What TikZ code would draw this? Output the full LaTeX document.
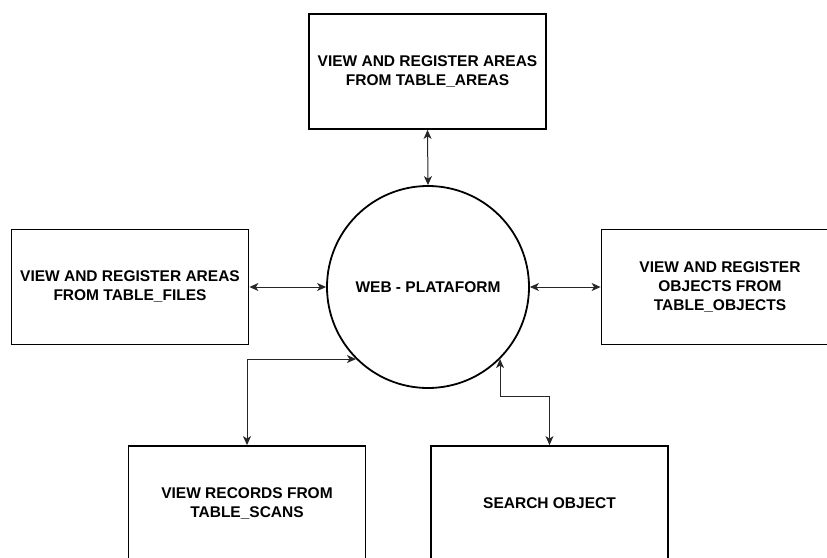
\documentclass[tikz,border=0pt]{standalone}
\usepackage{fontspec}
\setmainfont{Liberation Sans}
\usetikzlibrary{arrows.meta}
\begin{document}
\begin{tikzpicture}[x=1pt,y=-1pt,
  box/.style={draw=black,line width=1.8pt,minimum width=237pt,minimum height=115pt,
    align=center,inner sep=2pt,font=\fontsize{15.5}{19}\selectfont\bfseries},
  hub/.style={draw=black,line width=1.8pt,circle,minimum size=202pt,inner sep=0pt,
    font=\fontsize{15.5}{19}\selectfont\bfseries},
  link/.style={draw=black!85,line width=1pt,
    {Stealth[length=9pt,width=8pt,inset=2.5pt]}-{Stealth[length=9pt,width=8pt,inset=2.5pt]}}]
  \useasboundingbox (0,0) rectangle (827,557);

  \node[hub] (web) at (428,287) {WEB - PLATAFORM};

  \node[box] (areas)   at (427.5,71.5) {VIEW AND REGISTER AREAS\\FROM TABLE\_AREAS};
  \node[box] (files)   at (130,287)    {VIEW AND REGISTER AREAS\\FROM TABLE\_FILES};
  \node[box] (objects) at (720,287)    {VIEW AND REGISTER\\OBJECTS FROM\\TABLE\_OBJECTS};
  \node[box] (scans)   at (247,503.5)  {VIEW RECORDS FROM\\TABLE\_SCANS};
  \node[box] (search)  at (549.5,503.5) {SEARCH OBJECT};

  \coordinate (bend) at (549.5,396);

  \draw[link] (areas.south) -- (web.north);
  \draw[link] (files.east) -- (web.west);
  \draw[link] (web.east) -- (objects.west);
  \draw[link] (web.-135) -| (scans.north);
  \draw[link] (web.-45) |- (bend) -- (search.north);
\end{tikzpicture}
\end{document}
